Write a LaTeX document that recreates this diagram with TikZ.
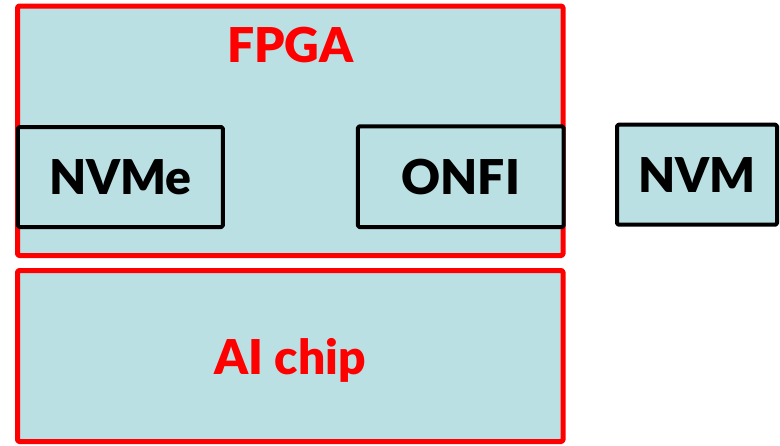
\documentclass[tikz,border=0pt]{standalone}
\usepackage{fontspec}
\setmainfont{Lato}[BoldFont={Lato Black}]
\usepackage{tikz}
\usetikzlibrary{positioning}
\definecolor{chipfill}{HTML}{BAE0E3}
\tikzset{
  chipbox/.style={draw=red, line width=5pt, fill=chipfill, rounded corners=1.5pt, inner sep=0pt, outer sep=0pt},
  ifbox/.style={draw=black, line width=4pt, fill=chipfill, rounded corners=1.5pt, inner sep=0pt, outer sep=0pt,
    text depth=0pt, font=\bfseries\fontsize{48}{50}\selectfont},
  chiplbl/.style={text=red, inner sep=0pt, text depth=0pt, font=\bfseries\fontsize{48}{50}\selectfont},
  every picture/.style={line cap=round, line join=round}
}

\begin{document}
\begin{tikzpicture}[x=1pt,y=-1pt]
  \useasboundingbox (0,0) rectangle (780,445);
  \node[chipbox, minimum width=545.5pt, minimum height=249.5pt] (fpga) at (290.25,130.75) {};
  \node[chipbox, chiplbl, minimum width=545.5pt, minimum height=171pt] (ai) at (290.25,356) {AI chip};
  \node[chiplbl, below=21pt of fpga.north] (fpgalbl) {FPGA};
  \node[ifbox, minimum width=205pt, minimum height=100pt] (nvme) at (120.4,177) {NVMe};
  \node[ifbox, minimum width=205.7pt, minimum height=100.7pt] (onfi) at (460.8,176.7) {ONFI};
  \node[ifbox, minimum width=160pt, minimum height=100pt] (nvm) at (697,174.7) {NVM};
\end{tikzpicture}
\end{document}
